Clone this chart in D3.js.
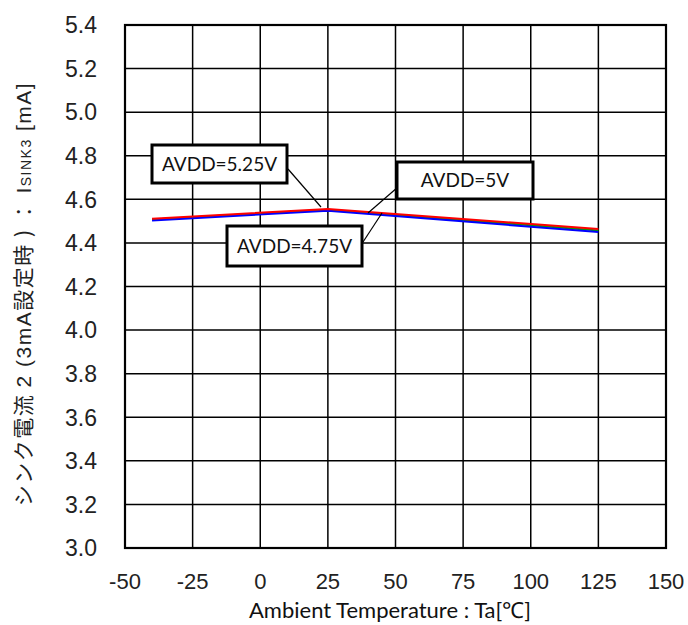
<!DOCTYPE html>
<html><head><meta charset="utf-8">
<script src="https://cdn.jsdelivr.net/npm/d3@7"></script>
<style>body{margin:0;background:#fff}</style>
</head><body>
<svg id="c" width="688" height="625"></svg>
<script>
const temps = [-40, 25, 125];
const seriesNames = ["AVDD=5V", "AVDD=4.75V", "AVDD=5.25V"];
const valuesAVDD5 = [4.507, 4.552, 4.457];
const valuesAVDD475 = [4.503, 4.548, 4.450];
const valuesAVDD525 = [4.511, 4.556, 4.464];
const seriesColors = ["#00a000", "#0000ff", "#ff0000"];
const xTicks = [-50, -25, 0, 25, 50, 75, 100, 125, 150];
const yTicks = [3.0, 3.2, 3.4, 3.6, 3.8, 4.0, 4.2, 4.4, 4.6, 4.8, 5.0, 5.2, 5.4];

const svg = d3.select("#c");
const L = 125, R = 666, T = 25, B = 548;
const x = d3.scaleLinear().domain([-50, 150]).range([L, R]);
const y = d3.scaleLinear().domain([3.0, 5.4]).range([B, T]);

// grid
svg.append("g").selectAll("line").data(xTicks).join("line")
  .attr("x1", d => x(d)).attr("x2", d => x(d)).attr("y1", T).attr("y2", B)
  .attr("stroke", "#000").attr("stroke-width", 1.5);
svg.append("g").selectAll("line").data(yTicks).join("line")
  .attr("y1", d => y(d)).attr("y2", d => y(d)).attr("x1", L).attr("x2", R)
  .attr("stroke", "#000").attr("stroke-width", 1.5);
svg.append("rect").attr("x", L).attr("y", T).attr("width", R - L).attr("height", B - T)
  .attr("fill", "none").attr("stroke", "#000").attr("stroke-width", 2.2);

// tick labels
svg.append("g").selectAll("text").data(yTicks).join("text")
  .attr("x", 97).attr("y", d => y(d)).attr("dy", "0.36em")
  .attr("text-anchor", "end").attr("font-family", "Liberation Sans, Arial")
  .attr("font-size", 23).attr("fill", "#222").text(d => d.toFixed(1));
svg.append("g").selectAll("text").data(xTicks).join("text")
  .attr("x", d => x(d)).attr("y", 589)
  .attr("text-anchor", "middle").attr("font-family", "Liberation Sans, Arial")
  .attr("font-size", 22).attr("fill", "#222").text(d => d);

// axis titles
svg.append("text").attr("x", 390).attr("y", 618).attr("text-anchor", "middle")
  .attr("font-family", "Lato, Open Sans, sans-serif").attr("font-size", 22).attr("fill", "#111")
  .text("Ambient Temperature : Ta[℃]");
const yt = svg.append("text").attr("transform", "translate(31,294) rotate(-90)")
  .attr("text-anchor", "middle").attr("font-family", "Liberation Sans, Noto Sans CJK JP")
  .attr("font-size", 21).attr("letter-spacing", 1.5).attr("fill", "#222");
yt.append("tspan").attr("font-family", "Noto Sans CJK JP").text("シンク電流 ");
yt.append("tspan").text(" 2 (3mA");
yt.append("tspan").attr("font-family", "Noto Sans CJK JP").text("設定時 )  ：  ");
yt.append("tspan").text(" I");
yt.append("tspan").attr("font-size", 14).text("SINK3");
yt.append("tspan").text(" [mA]");

// lines
const allValues = [valuesAVDD5, valuesAVDD475, valuesAVDD525];
const line = d3.line().x((d, i) => x(temps[i])).y(d => y(d));
svg.append("g").selectAll("path").data(allValues).join("path")
  .attr("d", d => line(d)).attr("fill", "none")
  .attr("stroke", (d, i) => seriesColors[i]).attr("stroke-width", 2);

// annotations
const ann = [
  {name: seriesNames[2], bx: 152, by: 145, bw: 135, bh: 38, lx1: 288, ly1: 169, lx2: 321, ly2: 207},
  {name: seriesNames[0], bx: 397, by: 162, bw: 136, bh: 37, lx1: 398, ly1: 187, lx2: 368, ly2: 213},
  {name: seriesNames[1], bx: 227, by: 226, bw: 135, bh: 40, lx1: 363, ly1: 242, lx2: 382, ly2: 213}
];
const ag = svg.append("g");
ann.forEach(a => {
  ag.append("line").attr("x1", a.lx1).attr("y1", a.ly1).attr("x2", a.lx2).attr("y2", a.ly2)
    .attr("stroke", "#000").attr("stroke-width", 1.2);
  ag.append("rect").attr("x", a.bx).attr("y", a.by).attr("width", a.bw).attr("height", a.bh)
    .attr("fill", "#fff").attr("stroke", "#000").attr("stroke-width", 3);
  ag.append("text").attr("x", a.bx + a.bw / 2).attr("y", a.by + a.bh / 2).attr("dy", "0.36em")
    .attr("text-anchor", "middle").attr("font-family", "Lato, Open Sans, sans-serif")
    .attr("font-size", 19).attr("fill", "#111").text(a.name);
});
</script>
</body></html>
